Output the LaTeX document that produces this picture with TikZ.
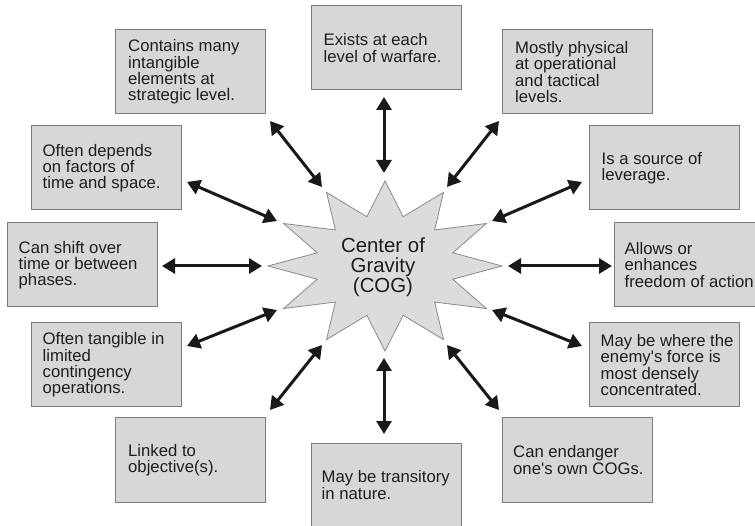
\documentclass[tikz,border=0pt]{standalone}
\usepackage{fontspec}
\setmainfont{Liberation Sans}
\usetikzlibrary{arrows.meta,calc}
\definecolor{boxfill}{HTML}{D7D7D7}
\definecolor{boxline}{HTML}{7C7C7C}
\definecolor{starfill}{HTML}{DCDCDC}
\definecolor{starline}{HTML}{8A8A8A}
\definecolor{inkcol}{HTML}{1E1E1E}
\tikzset{
  factbox/.style={draw=boxline, fill=boxfill, line width=1pt,
    minimum width=150pt, minimum height=84pt, inner sep=0pt},
  facttext/.style={anchor=west, align=left, inner sep=0pt, text=inkcol,
    font=\fontsize{16.7}{16.3}\selectfont},
  cogtext/.style={align=center, inner sep=0pt, text=inkcol,
    font=\fontsize{20.4}{20}\selectfont},
  burst/.style={draw=starline, fill=starfill, line width=0.8pt},
  biarrow/.style={line width=3pt, draw=black!90,
    {Triangle[length=13pt,width=15pt]}-{Triangle[length=13pt,width=15pt]}},
}
\begin{document}
\begin{tikzpicture}[x=1pt,y=-1pt]
\useasboundingbox[fill=white] (0,0) rectangle (755,526);

% central twelve-pointed burst
\draw[burst,shift={(385,266)}] (0:117 and 85)
  \foreach \i in {0,...,11} { -- (\i*30+15:70.2 and 51) -- (\i*30+30:117 and 85) } -- cycle;
\node[cogtext] (cog) at (383,267) {Center of\\Gravity\\(COG)};

% surrounding characteristic boxes
\node[factbox] (b1)  at (386,48)    {};
\node[factbox] (b2)  at (190.5,72)  {};
\node[factbox] (b3)  at (577.5,72)  {};
\node[factbox] (b4)  at (106,168)   {};
\node[factbox] (b5)  at (664,168)   {};
\node[factbox] (b6)  at (82,265)    {};
\node[factbox] (b7)  at (689,265)   {};
\node[factbox] (b8)  at (106,365)   {};
\node[factbox] (b9)  at (664,365)   {};
\node[factbox] (b10) at (190.5,460) {};
\node[factbox] (b11) at (577.5,460) {};
\node[factbox] (b12) at (386,485)   {};

\node[facttext] (t1)  at ([xshift=13pt]b1.west)  {Exists at each\\level of warfare.};
\node[facttext] (t2)  at ([xshift=13pt]b2.west)  {Contains many\\intangible\\elements at\\strategic level.};
\node[facttext] (t3)  at ([xshift=13pt]b3.west)  {Mostly physical\\at operational\\and tactical\\levels.};
\node[facttext] (t4)  at ([xshift=12pt]b4.west)  {Often depends\\on factors of\\time and space.};
\node[facttext] (t5)  at ([xshift=13pt]b5.west)  {Is a source of\\leverage.};
\node[facttext] (t6)  at ([xshift=12pt]b6.west)  {Can shift over\\time or between\\phases.};
\node[facttext] (t7)  at ([xshift=11pt]b7.west)  {Allows or\\enhances\\freedom of action};
\node[facttext] (t8)  at ([xshift=12pt]b8.west)  {Often tangible in\\limited\\contingency\\operations.};
\node[facttext] (t9)  at ([xshift=12pt]b9.west)  {May be where the\\enemy\textquotesingle s force is\\most densely\\concentrated.};
\node[facttext] (t10) at ([xshift=13pt]b10.west) {Linked to\\objective(s).};
\node[facttext] (t11) at ([xshift=11pt]b11.west) {Can endanger\\one\textquotesingle s own COGs.};
\node[facttext] (t12) at ([xshift=11pt]b12.west) {May be transitory\\in nature.};

% arrow ends: box side (p) and burst side (q)
\coordinate (p1)  at (384,97);   \coordinate (q1)  at (384,173);
\coordinate (p2)  at (270,121);  \coordinate (q2)  at (322,187);
\coordinate (p3)  at (499,121);  \coordinate (q3)  at (447,187);
\coordinate (p4)  at (187,182);  \coordinate (q4)  at (277,221);
\coordinate (p5)  at (582,182);  \coordinate (q5)  at (492,221);
\coordinate (p6)  at (162,266);  \coordinate (q6)  at (262,266);
\coordinate (p7)  at (612,266);  \coordinate (q7)  at (508,266);
\coordinate (p8)  at (187,346);  \coordinate (q8)  at (277,310);
\coordinate (p9)  at (582,346);  \coordinate (q9)  at (492,310);
\coordinate (p10) at (270,410);  \coordinate (q10) at (322,345);
\coordinate (p11) at (499,410);  \coordinate (q11) at (447,345);
\coordinate (p12) at (384,434);  \coordinate (q12) at (384,358);

\foreach \k in {1,...,12} { \draw[biarrow] (p\k) -- (q\k); }
\end{tikzpicture}
\end{document}
